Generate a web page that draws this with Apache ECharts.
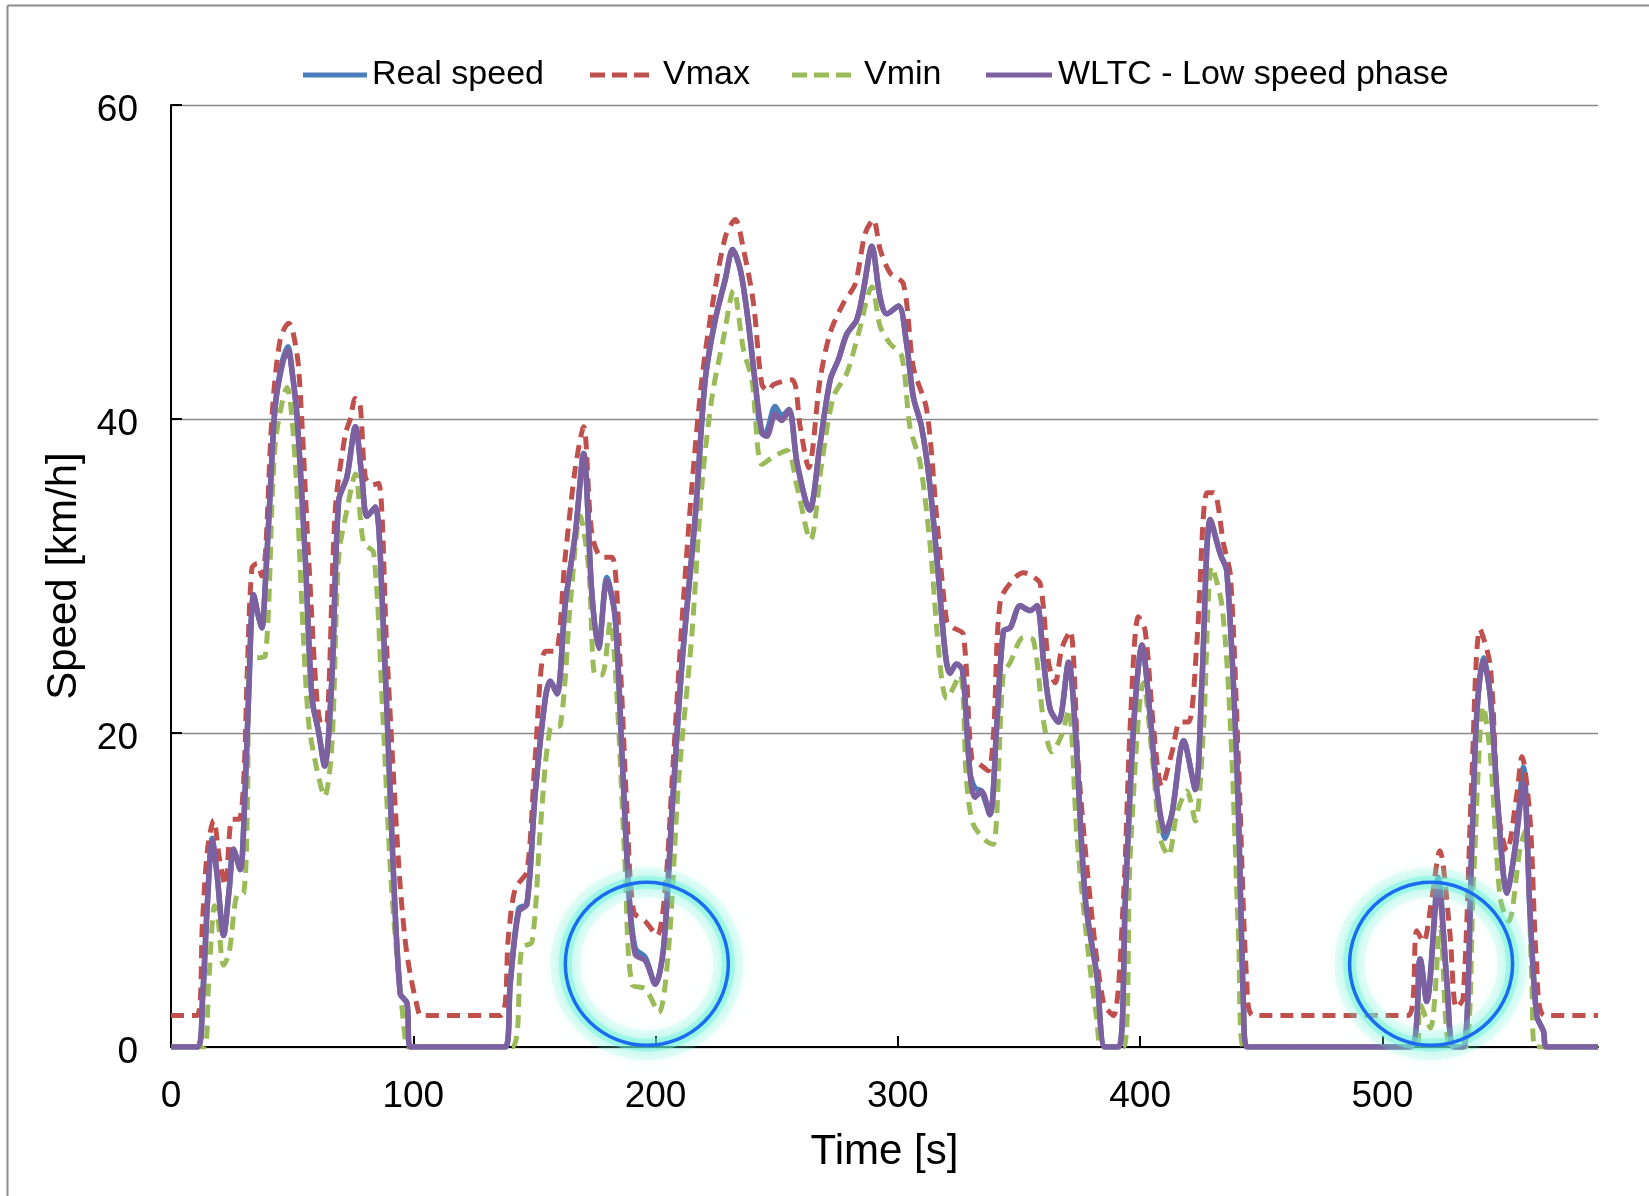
<!DOCTYPE html>
<html>
<head>
<meta charset="utf-8">
<script src="https://cdn.jsdelivr.net/npm/echarts@6/dist/echarts.min.js"></script>
<style>html,body{margin:0;padding:0;background:#fff;}#c{width:1649px;height:1196px;}</style>
</head>
<body>
<div id="c"></div>
<script>
// ---- data (time [s], speed [km/h]) ----
const xTicks = [0, 100, 200, 300, 400, 500];
const yTicks = [0, 20, 40, 60];
const seriesNames = ['Real speed', 'Vmax', 'Vmin', 'WLTC - Low speed phase'];

const wltc = [[0,0],[11,0],[13,3],[15,9],[17,13.1],[19,11],[21.7,7.1],[24,10],[25.8,12.6],[28.6,11.3],[30,14],[32,22.2],[34.1,28.8],[36,27.5],[37.5,26.7],[38.9,29.4],[41,35.5],[43,40.8],[46,43.5],[48.3,44.4],[50,43],[52,40.2],[55.4,31.2],[58.2,22.2],[60.9,20.1],[63.4,17.9],[66.4,23.4],[69.2,34.8],[72.6,36.3],[76.1,39.5],[78.8,36.3],[80.9,33.8],[84.3,34.4],[87.1,28.8],[91.2,13.3],[94.6,3.4],[97.4,2.8],[98.8,0],
[138,0],[140,4],[143.5,8.6],[146.9,9.1],[150.3,16.1],[154.5,22.2],[156.5,23.3],[159.3,22.5],[162.7,28.2],[166.9,32.7],[170.3,37.8],[173.7,28.9],[176.5,25.4],[179.9,29.7],[183.3,27.4],[186.1,18.8],[188.9,10.1],[191.6,5.9],[195.8,5.5],[199.9,4.0],[203.3,6.3],[206.8,15.0],[210.9,24.4],[216.4,33.8],[220.5,42.5],[224.6,46.3],[228.8,48.9],[231.8,50.8],[235,49.5],[238,46.5],[241,42.5],[244,39.1],[245.9,38.9],[249.4,40.3],[252.1,39.9],[255.1,40.6],[258.4,37.2],[263.6,34.2],[267.9,38.4],[272.1,42.5],[275.5,43.8],[278.9,45.4],[283,46.3],[285.8,48.2],[289.3,51.0],[292.6,47.8],[295.4,46.7],[300.3,47.2],[303.6,44.8],[306.4,41.4],[309.8,39.5],[313.3,35.7],[316.7,30.1],[319.5,25.2],[321.5,23.8],[324.2,24.4],[326.7,24.0],[329.7,17.6],[331.8,15.9],[334.5,16.3],[338,14.8],[340.8,20.4],[343.6,26.5],[346.4,26.7],[350.5,28.1],[354.6,27.8],[357.4,28.1],[360.2,24.5],[362.9,21.5],[366.3,20.7],[370.5,24.5],[373.2,20.4],[377.4,9.4],[382.2,4.5],[385.6,0],[391.2,0],[393.9,9.4],[397.3,20.4],[400.8,25.6],[404.2,21.0],[407,16.3],[410.4,13.7],[413.2,14.9],[418,19.5],[422.8,16.4],[425.5,23.2],[429,33.6],[433.1,31.4],[435.8,30.3],[440,17.7],[442.7,2.5],[444.1,0],
[511.5,0],[515.6,5.6],[518.3,2.9],[523.1,10.2],[526.6,4.2],[529.3,0],[533.5,0],[536.9,12.7],[539,21.3],[541.7,24.6],[544.5,22.4],[547.9,14.9],[551.4,9.8],[554.8,12.7],[558.2,16.8],[561,8.4],[563.7,2.0],[566.5,1.0],[567.8,0],[589,0]];

const realSpeed = [[0,0],[11,0],[13,3],[15,9.2],[17,13.3],[19,11],[21.7,7.1],[24,10],[25.8,12.6],[28.6,11.3],[30,14],[32,22.2],[34.1,28.8],[36,27.5],[37.5,26.7],[38.9,29.4],[41,35.5],[43,40.8],[46,43.7],[48.3,44.6],[50,43],[52,40.2],[55.4,31.2],[58.2,22.2],[60.9,20.1],[63.4,17.9],[66.4,23.4],[69.2,34.8],[72.6,36.3],[76.1,39.5],[78.8,36.3],[80.9,33.8],[84.3,34.4],[87.1,28.8],[91.2,13.3],[94.6,3.4],[97.4,2.8],[98.8,0],
[138,0],[140,4],[143.5,8.8],[146.9,9.1],[150.3,16.1],[154.5,22.2],[156.5,23.3],[159.3,22.5],[162.7,28.2],[166.9,32.7],[170.3,37.8],[173.7,28.9],[176.5,25.4],[179.9,29.9],[183.3,27.4],[186.1,18.8],[188.9,10.1],[191.6,6.3],[195.8,5.7],[199.9,4.0],[203.3,6.3],[206.8,15.0],[210.9,24.4],[216.4,33.8],[220.5,42.5],[224.6,46.3],[228.8,48.9],[231.8,50.8],[235,49.5],[238,46.5],[241,42.5],[244,39.1],[245.9,39.2],[249.4,40.8],[252.1,40.2],[255.1,40.6],[258.4,37.2],[263.6,34.2],[267.9,38.4],[272.1,42.5],[275.5,43.8],[278.9,45.4],[283,46.3],[285.8,48.2],[289.3,51.0],[292.6,47.8],[295.4,46.7],[300.3,47.2],[303.6,44.8],[306.4,41.4],[309.8,39.5],[313.3,35.7],[316.7,30.1],[319.5,25.2],[321.5,23.8],[324.2,24.4],[326.7,24.0],[329.7,17.6],[331.8,16.5],[334.5,16.3],[338,14.8],[340.8,20.4],[343.6,26.5],[346.4,26.7],[350.5,28.1],[354.6,27.8],[357.4,28.1],[360.2,24.5],[362.9,21.5],[366.3,20.7],[370.5,24.5],[373.2,20.4],[377.4,9.4],[382.2,4.5],[385.6,0],[391.2,0],[393.9,9.4],[397.3,20.4],[400.8,25.6],[404.2,21.0],[407,16.3],[410.4,13.3],[413.2,14.9],[418,19.5],[422.8,16.4],[425.5,23.2],[429,33.6],[433.1,31.4],[435.8,30.3],[440,17.7],[442.7,2.5],[444.1,0],
[511.5,0],[515.6,5.6],[518.3,2.9],[523.1,10.8],[526.6,4.2],[529.3,0],[533.5,0],[536.9,12.7],[539,21.3],[541.7,24.8],[544.5,22.4],[547.9,14.9],[551.4,9.8],[554.8,12.7],[558.2,17.8],[561,8.4],[563.7,2.0],[566.5,1.0],[567.8,0],[589,0]];

const vmax = [[0,2],[10.7,2],[13,8],[15,12.5],[17.6,14.45],[20,12],[22.4,10.3],[25.2,14.5],[28,14.5],[30,17],[31.5,24],[33.4,30.5],[35.5,30.8],[37.5,30.0],[39,31.5],[41.7,40.2],[45,45],[48.6,46.1],[50,45.8],[52.7,43.2],[56.8,31.2],[60.2,22.2],[62.3,20.5],[64.5,20.8],[67.8,34.2],[71.9,39],[74,40],[76.1,41.3],[78,41],[80.2,36.3],[83,35.8],[85.7,35.9],[89.1,25.2],[93.9,11.8],[96.5,7],[98.8,4.6],[102.2,2.2],[103,2],
[136,2],[139.3,7.1],[142.1,10.1],[146.9,11.2],[150.3,18.4],[154.5,25.2],[158.6,25.2],[162.7,31.2],[166.9,36.9],[170.3,39.5],[173.7,32.7],[177.9,31.2],[182,31.2],[185.4,24.4],[188.2,15.0],[191,8.6],[195.8,8.0],[200.6,7.1],[204,10.1],[206.8,16.9],[210.9,27.1],[215,35.7],[219.1,42.5],[223.3,47.1],[228.8,51.6],[232.9,52.7],[236.3,50.8],[240.4,47.4],[243.9,42.2],[246.6,41.8],[248.7,42.2],[256.3,42.5],[259.7,39.5],[263.2,36.9],[267.9,42.5],[272.1,45.5],[277.6,47.4],[282.4,48.6],[286.5,51.8],[289.9,52.7],[292.7,50.8],[296.8,49.3],[302.3,48.6],[306.4,43.3],[311.9,40.6],[316,33.8],[320.2,27.1],[322.9,26.7],[327,26.3],[330.5,18.4],[333.9,18.0],[337.3,17.6],[339.5,20],[342.3,28.4],[347.8,29.8],[351.9,30.2],[355.4,30.0],[358.8,29.5],[362.2,24.5],[364.9,23.2],[367.7,25.4],[371.1,26.5],[374.6,17.7],[379.4,9.4],[384.9,2.8],[389,2.0],[393.1,9.4],[395.9,20.4],[399.3,27.4],[402.1,26.5],[405.5,20.4],[409,16.6],[413.2,18.8],[416.6,20.7],[420,20.7],[423.5,25.9],[427.6,35.3],[430.4,35.3],[434.5,32.0],[437.3,30.0],[440.7,17.7],[444.1,3.9],[446.9,2.0],
[510.8,2],[514.2,7.4],[517,6.7],[520,9],[523.7,12.5],[527.8,7.4],[530.5,2.5],[533.3,3.1],[536.9,17],[540.3,26.6],[544.5,24.3],[547.9,14.9],[551.4,12.5],[555.5,16.1],[557.6,18.5],[561,14.4],[563.7,5.2],[567.1,2.0],[589,2]];

const vmin = [[0,0],[13.5,0],[15.5,4],[18,9],[19.5,8],[21.7,5.2],[24,6],[27.2,9.7],[30,9.8],[31.5,15],[32.7,25.2],[35.5,24.8],[38.9,24.9],[43,38.4],[47.9,42.0],[51.3,37.2],[54,28.2],[56.8,20.7],[60.2,17.7],[63.4,15.95],[66.4,19.2],[69.2,31.2],[72.6,34.2],[76.1,36.5],[79.5,32.1],[83.6,31.5],[87.1,22.2],[91.2,9.7],[96.7,0.4],[97.5,0],
[140.7,0],[144.8,6.3],[149,6.7],[152.4,13.8],[156.5,20.3],[160.7,20.5],[164.8,28.2],[168.9,33.8],[172.4,30.5],[175.1,23.7],[177.9,23.7],[181.3,27.1],[184.1,22.2],[187.5,11.2],[190.2,4.0],[195.8,3.7],[201.3,2.2],[205.4,6.3],[209.5,16.9],[215,26.3],[219.1,35.7],[223.3,41.4],[228.1,45.2],[232.2,48.2],[236.3,44.4],[239.8,42.5],[243.9,37.1],[248.7,37.6],[254.2,38.0],[258.4,35.7],[263.9,32.3],[268.6,37.2],[273.4,41.4],[278.9,42.9],[283.7,45.4],[289.3,48.4],[292.7,45.9],[296.8,44.8],[301.6,44],[305,39.5],[309.2,37.2],[313.3,32],[317.4,24.4],[320.2,22.2],[325.6,23.7],[328.4,16.9],[331.1,14.2],[336.6,13.1],[339.4,12.9],[343.5,23.7],[346.4,24.5],[351.9,26.1],[356,25.9],[360.2,20.7],[363.6,18.8],[367.7,19.9],[370.5,21.5],[373.9,13.5],[378.1,6.7],[382.2,1.7],[384.3,0],[393.1,0],[395.9,12.2],[401.4,23.2],[405.5,17.7],[408.3,13.3],[411.7,12.2],[415.2,14.9],[419.3,16.3],[422.8,14.4],[426.2,20.4],[429.6,30.6],[433.8,28.1],[437.3,20.4],[440.7,6.7],[442.7,0],
[514.2,0],[515.6,2.7],[519.8,1.2],[523.9,7.6],[528,0],[534.2,0],[537.6,10.6],[541.7,21.7],[544.5,18.7],[548.6,9.5],[552.1,8.0],[556.9,12.7],[559,13.8],[561.7,4.2],[563,0],[589,0]];

// highlighted zones (circle centres, in data units)
const highlights = [[196.4, 5.3], [520.1, 5.3]];

const FONT = "'Liberation Sans', Arial, sans-serif";
const chart = echarts.init(document.getElementById('c'), null, {renderer: 'canvas'});

const outerGlow = highlights.map(c => ({coord: c, symbolSize: 163,
  itemStyle: {color: 'none', borderColor: 'rgba(120,245,220,0.16)', borderWidth: 30, shadowColor: 'rgba(100,240,215,0.45)', shadowBlur: 14}}));
const innerGlow = highlights.map(c => ({coord: c, symbolSize: 163,
  itemStyle: {color: 'none', borderColor: 'rgba(110,245,218,0.45)', borderWidth: 13, shadowColor: 'rgba(90,240,210,0.7)', shadowBlur: 12}}));
const ringItems = highlights.map(c => ({coord: c, symbolSize: 163,
  itemStyle: {color: 'none', borderColor: '#1a6cf0', borderWidth: 3.5, shadowBlur: 0}}));

const common = {type: 'line', showSymbol: false, symbol: 'none', smooth: 0.3, animation: false};
const solidIcon = 'rect';
const dashIcon = 'path://M0,0h15v5h-15z M22,0h15v5h-15z M44,0h15v5h-15z';

function legendItem(name, left, width, icon, pad) {
  return {left: left, top: 58, padding: 0, itemWidth: width, itemHeight: 5, icon: icon,
    textStyle: {fontSize: 34, color: '#000', fontFamily: FONT, padding: [0, 0, 0, pad]},
    data: [name]};
}

chart.setOption({
  animation: false,
  backgroundColor: '#ffffff',
  textStyle: {fontFamily: FONT},
  grid: {left: 171, right: 51, top: 105, bottom: 149, containLabel: false},
  legend: [
    legendItem(seriesNames[0], 303, 64, solidIcon, 0),
    legendItem(seriesNames[1], 590, 59, dashIcon, 9),
    legendItem(seriesNames[2], 792, 59, dashIcon, 8),
    legendItem(seriesNames[3], 986, 66, solidIcon, 1)
  ],
  xAxis: {
    type: 'value', min: 0, max: 589, interval: 100,
    name: 'Time [s]', nameLocation: 'middle', nameGap: 84,
    nameTextStyle: {fontSize: 42, color: '#000', fontFamily: FONT},
    axisLine: {show: true, onZero: false, lineStyle: {color: '#000', width: 2}},
    axisTick: {show: true, inside: true, length: 11, customValues: xTicks, lineStyle: {color: '#000', width: 2}},
    axisLabel: {fontSize: 37, color: '#000', margin: 31, customValues: xTicks, fontFamily: FONT},
    splitLine: {show: false}
  },
  yAxis: {
    type: 'value', min: 0, max: 60, interval: 20,
    name: 'Speed [km/h]', nameLocation: 'middle', nameGap: 86,
    nameTextStyle: {fontSize: 42, color: '#000', fontFamily: FONT},
    axisLine: {show: true, lineStyle: {color: '#000', width: 2}},
    axisTick: {show: true, inside: true, length: 11, lineStyle: {color: '#000', width: 2}},
    axisLabel: {fontSize: 37, color: '#000', margin: 33, customValues: yTicks, fontFamily: FONT,
      verticalAlign: 'top', lineHeight: 12},
    splitLine: {show: true, lineStyle: {color: '#8a8a8a', width: 1.3}}
  },
  graphic: [
    {type: 'line', shape: {x1: 7.5, y1: 5.5, x2: 1649, y2: 5.5}, style: {stroke: '#8c8c8c', lineWidth: 2}, silent: true},
    {type: 'line', shape: {x1: 7.5, y1: 5.5, x2: 7.5, y2: 1196}, style: {stroke: '#8c8c8c', lineWidth: 2}, silent: true}
  ],
  series: [
    Object.assign({}, common, {name: seriesNames[0], data: realSpeed, z: 2,
      lineStyle: {color: '#4A7EBB', width: 5.5}, itemStyle: {color: '#4A7EBB'}}),
    Object.assign({}, common, {name: seriesNames[1], data: vmax, z: 3,
      lineStyle: {color: '#C0504D', width: 5, type: [13, 8], cap: 'butt'}, itemStyle: {color: '#C0504D'}}),
    Object.assign({}, common, {name: seriesNames[2], data: vmin, z: 3,
      lineStyle: {color: '#9BBB59', width: 5, type: [13, 8], cap: 'butt'}, itemStyle: {color: '#9BBB59'}}),
    Object.assign({}, common, {name: seriesNames[3], data: wltc, z: 4,
      lineStyle: {color: '#7D60A0', width: 5.5}, itemStyle: {color: '#7D60A0'},
      markPoint: {symbol: 'circle', silent: true, animation: false, z: 10,
        label: {show: false}, data: outerGlow.concat(innerGlow, ringItems)}})
  ]
});
</script>
</body>
</html>
